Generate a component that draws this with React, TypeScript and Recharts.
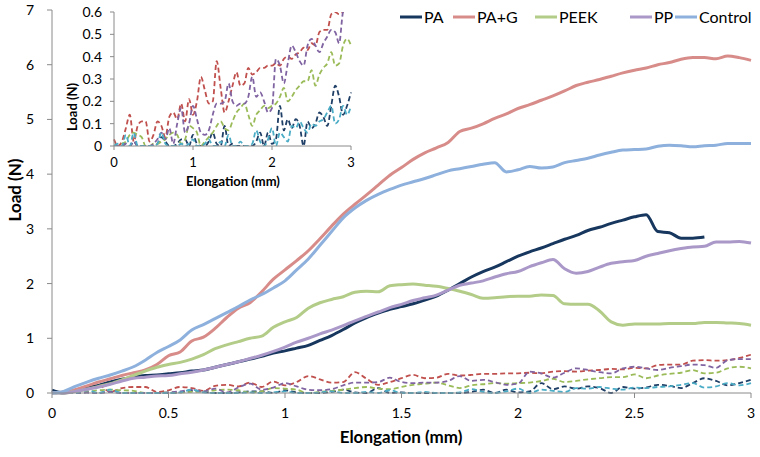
import React from 'react';
import { LineChart, Line, XAxis, YAxis, Label } from 'recharts';

const ELONG = [0, 0.05, 0.1, 0.15, 0.2, 0.25, 0.3, 0.35, 0.4, 0.45, 0.5, 0.55, 0.6, 0.65, 0.7, 0.75, 0.8, 0.85, 0.9, 0.95, 1, 1.05, 1.1, 1.15, 1.2, 1.25, 1.3, 1.35, 1.4, 1.45, 1.5, 1.55, 1.6, 1.65, 1.7, 1.75, 1.8, 1.85, 1.9, 1.95, 2, 2.05, 2.1, 2.15, 2.2, 2.25, 2.3, 2.35, 2.4, 2.45, 2.5, 2.55, 2.6, 2.65, 2.7, 2.75, 2.8, 2.85, 2.9, 2.95, 3];

// solid series (Load, N)
const PA = [0.05, 0.0, 0.05, 0.10, 0.14, 0.20, 0.25, 0.29, 0.32, 0.33, 0.35, 0.37, 0.40, 0.42, 0.47, 0.52, 0.57, 0.62, 0.67, 0.73, 0.77, 0.82, 0.87, 0.96, 1.05, 1.16, 1.28, 1.38, 1.46, 1.53, 1.58, 1.63, 1.70, 1.77, 1.88, 2.00, 2.12, 2.22, 2.30, 2.40, 2.50, 2.58, 2.65, 2.73, 2.81, 2.88, 2.97, 3.03, 3.10, 3.16, 3.22, 3.26, 2.95, 2.93, 2.83, 2.83, 2.85];
const PAG = [0, 0.02, 0.06, 0.13, 0.2, 0.26, 0.32, 0.37, 0.42, 0.52, 0.68, 0.75, 0.95, 1.02, 1.18, 1.38, 1.55, 1.65, 1.85, 2.08, 2.25, 2.42, 2.60, 2.82, 3.05, 3.27, 3.45, 3.62, 3.80, 3.98, 4.12, 4.27, 4.39, 4.48, 4.58, 4.78, 4.84, 4.92, 5.02, 5.10, 5.20, 5.27, 5.35, 5.43, 5.52, 5.62, 5.68, 5.73, 5.79, 5.85, 5.90, 5.94, 6.0, 6.04, 6.10, 6.13, 6.13, 6.11, 6.16, 6.13, 6.08];
const PEEK = [0, 0, 0.03, 0.07, 0.12, 0.17, 0.24, 0.32, 0.40, 0.47, 0.52, 0.56, 0.62, 0.70, 0.81, 0.88, 0.94, 1.00, 1.04, 1.20, 1.30, 1.38, 1.55, 1.65, 1.71, 1.76, 1.84, 1.86, 1.85, 1.96, 1.98, 1.99, 1.97, 1.95, 1.91, 1.86, 1.80, 1.73, 1.74, 1.76, 1.77, 1.77, 1.79, 1.78, 1.63, 1.62, 1.62, 1.50, 1.30, 1.24, 1.26, 1.26, 1.26, 1.27, 1.27, 1.27, 1.29, 1.29, 1.28, 1.27, 1.24];
const PP = [0, 0, 0.03, 0.07, 0.11, 0.16, 0.22, 0.27, 0.29, 0.31, 0.32, 0.35, 0.38, 0.42, 0.47, 0.52, 0.57, 0.63, 0.69, 0.76, 0.84, 0.93, 1.00, 1.08, 1.15, 1.23, 1.32, 1.40, 1.48, 1.56, 1.62, 1.69, 1.74, 1.79, 1.88, 1.97, 2.01, 2.05, 2.12, 2.18, 2.22, 2.31, 2.38, 2.44, 2.27, 2.19, 2.22, 2.30, 2.37, 2.40, 2.42, 2.50, 2.55, 2.60, 2.64, 2.67, 2.68, 2.76, 2.76, 2.77, 2.74];
const CONTROL = [0, 0.03, 0.12, 0.2, 0.27, 0.33, 0.40, 0.48, 0.60, 0.74, 0.85, 0.97, 1.15, 1.25, 1.36, 1.47, 1.58, 1.70, 1.80, 1.92, 2.05, 2.25, 2.45, 2.70, 2.95, 3.20, 3.38, 3.52, 3.63, 3.72, 3.80, 3.86, 3.92, 3.99, 4.06, 4.10, 4.14, 4.18, 4.21, 4.04, 4.08, 4.14, 4.11, 4.13, 4.21, 4.25, 4.29, 4.35, 4.40, 4.44, 4.45, 4.46, 4.51, 4.53, 4.52, 4.50, 4.52, 4.53, 4.56, 4.56, 4.56];

// dashed series (Load, N)
const PA_D = [0, 0, 0, 0.01, 0, 0.02, 0, 0, 0, 0, 0, 0.01, 0.04, 0.02, 0, 0, 0.01, 0.03, 0.03, 0, 0.05, 0.01, 0, 0, 0.02, 0.06, 0.01, 0, 0.09, 0, 0.01, 0, 0, 0, 0, 0, 0.02, 0.06, 0, 0.06, 0.01, 0.03, 0.18, 0.07, 0.12, 0.08, 0.12, 0.09, 0, 0.11, 0.08, 0.10, 0.15, 0.13, 0.09, 0.18, 0.27, 0.22, 0.14, 0.18, 0.24];
const PAG_D = [0.03, 0, 0.02, 0.08, 0.14, 0.02, 0.09, 0.11, 0.11, 0.02, 0.05, 0.11, 0.09, 0.04, 0.13, 0.15, 0.12, 0.19, 0.11, 0.21, 0.14, 0.20, 0.31, 0.25, 0.19, 0.20, 0.38, 0.26, 0.15, 0.20, 0.27, 0.33, 0.27, 0.28, 0.35, 0.32, 0.33, 0.35, 0.35, 0.36, 0.36, 0.37, 0.36, 0.39, 0.40, 0.39, 0.41, 0.42, 0.44, 0.43, 0.46, 0.45, 0.51, 0.52, 0.52, 0.59, 0.60, 0.59, 0.60, 0.64, 0.70];
const PEEK_D = [0, 0, 0.01, 0.02, 0.05, 0.06, 0.05, 0.04, 0, 0, 0.01, 0.01, 0.02, 0.03, 0.05, 0.06, 0.05, 0.01, 0.03, 0.09, 0.08, 0.06, 0, 0.02, 0.04, 0.06, 0.09, 0.11, 0.08, 0.07, 0.11, 0.15, 0.17, 0.19, 0.14, 0.09, 0.14, 0.16, 0.18, 0.17, 0.18, 0.19, 0.22, 0.26, 0.20, 0.22, 0.25, 0.27, 0.29, 0.29, 0.34, 0.27, 0.32, 0.35, 0.37, 0.42, 0.36, 0.37, 0.45, 0.48, 0.45];
const PP_D = [0, 0, 0, 0.01, 0, 0.02, 0, 0, 0, 0, 0.01, 0.03, 0.06, 0.03, 0.08, 0.01, 0.10, 0.17, 0.06, 0.10, 0.18, 0.12, 0.06, 0.05, 0.07, 0.14, 0.19, 0.19, 0.20, 0.28, 0.20, 0.18, 0.19, 0.19, 0.22, 0.31, 0.22, 0.24, 0.20, 0.15, 0.17, 0.39, 0.36, 0.28, 0.37, 0.45, 0.42, 0.38, 0.36, 0.45, 0.48, 0.45, 0.42, 0.46, 0.49, 0.52, 0.51, 0.46, 0.60, 0.62, 0.62];
const CONTROL_D = [0, 0.01, 0, 0.05, 0, 0.06, 0, 0, 0, 0, 0, 0.01, 0.06, 0.01, 0, 0, 0, 0.01, 0, 0.01, 0.03, 0, 0, 0.01, 0.03, 0, 0, 0.02, 0, 0.05, 0, 0, 0.02, 0, 0, 0.01, 0.07, 0.02, 0, 0.03, 0.08, 0, 0.06, 0.04, 0.02, 0.09, 0.08, 0.11, 0.08, 0.06, 0.10, 0.09, 0.11, 0.12, 0.15, 0.18, 0.10, 0.12, 0.18, 0.14, 0.18];

const X_TICKS = [0, 0.5, 1, 1.5, 2, 2.5, 3];
const Y_TICKS = [0, 1, 2, 3, 4, 5, 6, 7];
const INSET_X_TICKS = [0, 1, 2, 3];
const INSET_Y_TICKS = [0, 0.1, 0.2, 0.3, 0.4, 0.5, 0.6];
const SERIES_NAMES = ['PA', 'PA+G', 'PEEK', 'PP', 'Control'];

const pick = (arr: number[], i: number) => (i < arr.length ? arr[i] : null);
const rows = ELONG.map((x, i) => ({
  x,
  PA: pick(PA, i),
  PAG: pick(PAG, i),
  PEEK: pick(PEEK, i),
  PP: pick(PP, i),
  CONTROL: pick(CONTROL, i),
  PA_D: pick(PA_D, i),
  PAG_D: pick(PAG_D, i),
  PEEK_D: pick(PEEK_D, i),
  PP_D: pick(PP_D, i),
  CONTROL_D: pick(CONTROL_D, i),
}));

const FONT = 'Lato, "Open Sans", sans-serif';
const AXIS = '#8a8a8a';
const SOLID_KEYS = ['PA', 'PAG', 'PEEK', 'PP', 'CONTROL'];
const SOLID_COLORS = ['#17375E', '#D78C89', '#B3CC88', '#AA98C8', '#8DB0DC'];
const DASH_KEYS = ['PA_D', 'PAG_D', 'PEEK_D', 'PP_D', 'CONTROL_D'];
const DASH_COLORS = ['#1F3F66', '#C0504D', '#9BBB59', '#8064A2', '#4BACC6'];
const LEGEND_LEFT = [400, 453, 535, 630, 675];

const tickStyle = { fill: '#000', fontSize: 14, fontFamily: FONT };

function ChartLegend() {
  return (
    <div style={{ position: 'absolute', left: 0, top: 0, width: 760, height: 30, fontFamily: FONT, fontSize: 16, color: '#000' }}>
      {SERIES_NAMES.map((n, i) => (
        <div key={n} style={{ position: 'absolute', left: LEGEND_LEFT[i], top: 7, height: 20, display: 'flex', alignItems: 'center', whiteSpace: 'nowrap' }}>
          <svg width={22} height={20} style={{ display: 'block' }}>
            <line x1={0} y1={10} x2={22} y2={10} stroke={SOLID_COLORS[i]} strokeWidth={3} />
          </svg>
          <span style={{ marginLeft: 2, lineHeight: '20px' }}>{n}</span>
        </div>
      ))}
    </div>
  );
}

export default function App() {
  return (
    <div style={{ position: 'absolute', left: 0, top: 0, width: 760, height: 457, background: '#fff' }}>
      <div style={{ position: 'absolute', left: 0, top: 0 }}>
        <LineChart width={760} height={457} data={rows} margin={{ top: 10, right: 9, left: 0, bottom: 0 }}>
          <XAxis
            dataKey="x"
            type="number"
            domain={[0, 3]}
            ticks={X_TICKS}
            height={64}
            stroke={AXIS}
            tickSize={5}
            tickMargin={10}
            tick={tickStyle}
          >
            <Label
              content={() => (
                <text x={401} y={443} textAnchor="middle" fontFamily={FONT} fontSize={17} fontWeight="bold" fill="#000">
                  Elongation (mm)
                </text>
              )}
            />
          </XAxis>
          <YAxis
            type="number"
            domain={[0, 7]}
            ticks={Y_TICKS}
            width={52}
            stroke={AXIS}
            tickSize={5}
            tickMargin={13}
            tick={tickStyle}
          >
            <Label
              content={() => (
                <text x={21} y={190} transform="rotate(-90, 21, 190)" textAnchor="middle" fontFamily={FONT} fontSize={17} fontWeight="bold" fill="#000">
                  Load (N)
                </text>
              )}
            />
          </YAxis>
          {DASH_KEYS.map((k, i) => (
            <Line
              key={k}
              dataKey={k}
              type="monotone"
              stroke={DASH_COLORS[i]}
              strokeWidth={1.8}
              strokeDasharray="5 3"
              dot={false}
              activeDot={false}
              isAnimationActive={false}
            />
          ))}
          {SOLID_KEYS.map((k, i) => (
            <Line
              key={k}
              dataKey={k}
              name={SERIES_NAMES[i]}
              type="monotone"
              stroke={SOLID_COLORS[i]}
              strokeWidth={3}
              dot={false}
              activeDot={false}
              isAnimationActive={false}
            />
          ))}
        </LineChart>
      </div>
      <ChartLegend />
      <div style={{ position: 'absolute', left: 60, top: 0 }}>
        <LineChart width={300} height={192} data={rows} margin={{ top: 12, right: 9, left: 0, bottom: 0 }}>
          <XAxis
            dataKey="x"
            type="number"
            domain={[0, 3]}
            ticks={INSET_X_TICKS}
            height={46}
            stroke={AXIS}
            tickSize={4}
            tickMargin={8}
            tick={{ fill: '#000', fontSize: 13, fontFamily: FONT }}
          >
            <Label
              content={() => (
                <text x={173} y={186} textAnchor="middle" fontFamily={FONT} fontSize={13} fontWeight="bold" fill="#000">
                  Elongation (mm)
                </text>
              )}
            />
          </XAxis>
          <YAxis
            type="number"
            domain={[0, 0.6]}
            ticks={INSET_Y_TICKS}
            allowDataOverflow
            width={54}
            stroke={AXIS}
            tickSize={4}
            tickMargin={8}
            tick={tickStyle}
          >
            <Label
              content={() => (
                <text x={17} y={107} transform="rotate(-90, 17, 107)" textAnchor="middle" fontFamily={FONT} fontSize={13} fontWeight="bold" fill="#000">
                  Load (N)
                </text>
              )}
            />
          </YAxis>
          {DASH_KEYS.map((k, i) => (
            <Line
              key={k}
              dataKey={k}
              type="monotone"
              stroke={DASH_COLORS[i]}
              strokeWidth={1.8}
              strokeDasharray="5 3"
              dot={false}
              activeDot={false}
              isAnimationActive={false}
            />
          ))}
        </LineChart>
      </div>
    </div>
  );
}
